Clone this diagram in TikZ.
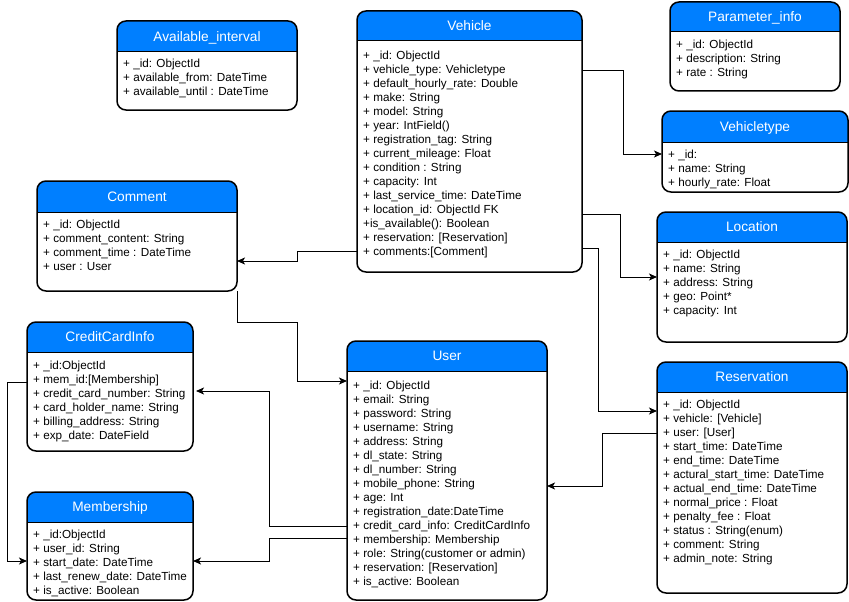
\documentclass[tikz,border=0pt]{standalone}
\usepackage{fontspec}
\setmainfont{Liberation Sans}
\usetikzlibrary{arrows.meta}
\definecolor{headblue}{RGB}{0,127,255}
\tikzset{
 classbox/.style={draw=black, line width=1.5pt, rounded corners=9pt, inner sep=0pt, outer sep=0pt},
 headfill/.style={fill=headblue},
 sepline/.style={draw=black, line width=1pt},
 titletext/.style={text=white, font=\fontsize{13.7}{16}\selectfont, inner sep=0pt, text height=9.8pt, text depth=0pt},
 bodytext/.style={text=black, font=\fontsize{11.7}{14}\selectfont, align=left, inner sep=0pt, anchor=north west},
 conn/.style={draw=black, line width=1pt, -{Stealth[length=8pt,width=7pt,inset=2pt]}},
}
\newcommand\umlclass[9]{%
 \begin{scope}
 \clip[rounded corners=9pt] (#2,#3) rectangle (#4,#5);
 \fill[headfill] (#2,#3) rectangle (#4,#6);
 \end{scope}
 \draw[sepline] (#2,#6) -- (#4,#6);
 \node[classbox, minimum width={#4-#2}, minimum height={#5-#3}, anchor=north west] (#1) at (#2,#3) {};
 \node[titletext] (#1-title) at ({(#2+#4)/2},{(#3+#6)/2}) {#7};
 \node[bodytext] (#1-body) at ({#2+6},{#8-5.8}) {\rule{0pt}{10pt}#9};
}
\begin{document}
\begin{tikzpicture}[x=1pt, y=-1pt]
\useasboundingbox (0,0) rectangle (849,602);

\umlclass{avail}{117}{21}{297}{110}{52}{Available\_interval}{63}{%
+ \_id: ObjectId\\
+ available\_from: DateTime\\
+ available\_until : DateTime}

\umlclass{vehicle}{357}{11}{582}{272}{41}{Vehicle}{55}{%
+ \_id: ObjectId\\
+ vehicle\_type: Vehicletype\\
+ default\_hourly\_rate: Double\\
+ make: String\\
+ model: String\\
+ year: IntField()\\
+ registration\_tag: String\\
+ current\_mileage: Float\\
+ condition : String\\
+ capacity: Int\\
+ last\_service\_time: DateTime\\
+ location\_id: ObjectId FK\\
+is\_available(): Boolean\\
+ reservation: [Reservation]\\
+ comments:[Comment]}

\umlclass{param}{670}{2}{840}{91}{32}{Parameter\_info}{44}{%
+ \_id: ObjectId\\
+ description: String\\
+ rate : String}

\umlclass{vtype}{662}{111}{848}{192}{142}{Vehicletype}{154}{%
+ \_id:\\
+ name: String\\
+ hourly\_rate: Float}

\umlclass{comment}{37}{181}{237}{291}{212}{Comment}{224}{%
+ \_id: ObjectId\\
+ comment\_content: String\\
+ comment\_time : DateTime\\
+ user : User}

\umlclass{location}{657}{212}{847}{342}{242}{Location}{254}{%
+ \_id: ObjectId\\
+ name: String\\
+ address: String\\
+ geo: Point*\\
+ capacity: Int}

\umlclass{credit}{27}{322}{193}{451}{352}{CreditCardInfo}{365}{%
+ \_id:ObjectId\\
+ mem\_id:[Membership]\\
+ credit\_card\_number: String\\
+ card\_holder\_name: String\\
+ billing\_address: String\\
+ exp\_date: DateField}

\umlclass{user}{347}{341}{547}{600}{371}{User}{385}{%
+ \_id: ObjectId\\
+ email: String\\
+ password: String\\
+ username: String\\
+ address: String\\
+ dl\_state: String\\
+ dl\_number: String\\
+ mobile\_phone: String\\
+ age: Int\\
+ registration\_date:DateTime\\
+ credit\_card\_info: CreditCardInfo\\
+ membership: Membership\\
+ role: String(customer or admin)\\
+ reservation: [Reservation]\\
+ is\_active: Boolean}

\umlclass{reservation}{657}{362}{847}{593}{392}{Reservation}{404}{%
+ \_id: ObjectId\\
+ vehicle: [Vehicle]\\
+ user: [User]\\
+ start\_time: DateTime\\
+ end\_time: DateTime\\
+ actural\_start\_time: DateTime\\
+ actual\_end\_time: DateTime\\
+ normal\_price : Float\\
+ penalty\_fee : Float\\
+ status : String(enum)\\
+ comment: String\\
+ admin\_note: String}

\umlclass{membership}{27}{492}{193}{600}{522}{Membership}{534}{%
+ \_id:ObjectId\\
+ user\_id: String\\
+ start\_date: DateTime\\
+ last\_renew\_date: DateTime\\
+ is\_active: Boolean}

% connectors
\draw[conn] (vehicle.east |- 0,71) -- (623,71) |- (vtype.west |- 0,154);
\draw[conn] (vehicle.east |- 0,214) -- (620,214) |- (location.west |- 0,277);
\draw[conn] (vehicle.east |- 0,248) -- (598,248) |- (reservation.west |- 0,411);
\draw[conn] (vehicle.west |- 0,251) -- (297,251) |- (comment.east |- 0,261);
\draw[conn] (comment.south east) |- (297,322) |- (user.west |- 0,381);
\draw[conn, shorten >=3pt] (user.west |- 0,526) -- (269,526) |- (credit.east |- 0,391);
\draw[conn] (user.west |- 0,538) -- (269,538) |- (membership.east |- 0,561);
\draw[conn] (credit.west |- 0,382) -- (7,382) |- (membership.west |- 0,561);
\draw[conn] (reservation.west |- 0,433) -- (602,433) |- (user.east |- 0,486);
\end{tikzpicture}
\end{document}
